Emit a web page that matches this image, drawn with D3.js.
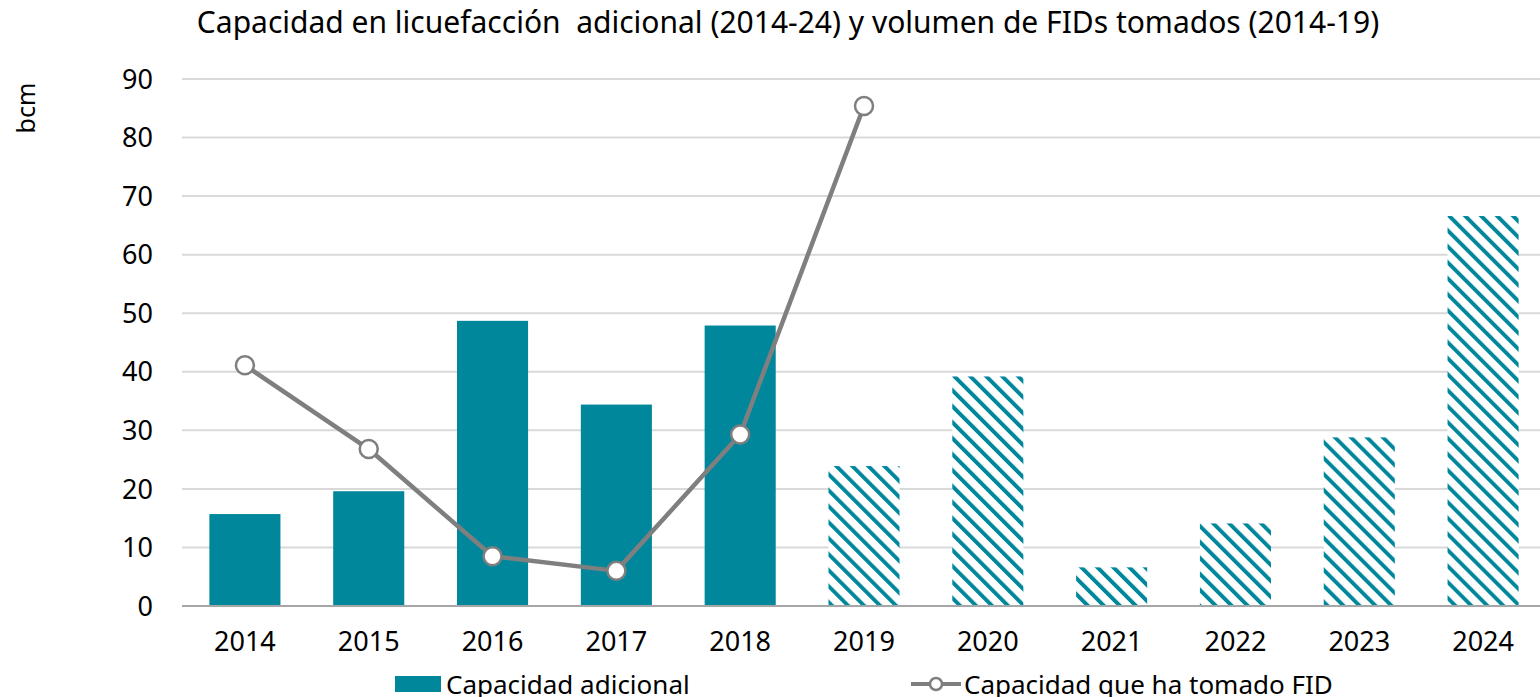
<!DOCTYPE html>
<html>
<head>
<meta charset="utf-8">
<script src="https://cdn.jsdelivr.net/npm/d3@7"></script>
<style>
  body { margin: 0; background: #fff; }
  svg { display: block; font-family: "Noto Sans", "Open Sans", sans-serif; }
</style>
</head>
<body>
<div id="chart"></div>
<script>
// chart data
var years = ['2014', '2015', '2016', '2017', '2018', '2019', '2020', '2021', '2022', '2023', '2024'];
var capacidad = [15.7, 19.6, 48.7, 34.4, 47.9, 23.9, 39.2, 6.6, 14.1, 28.8, 66.6];
var fidYears = ['2014', '2015', '2016', '2017', '2018', '2019'];
var fidValues = [41.1, 26.8, 8.5, 6.0, 29.3, 85.4];
var yTicks = [0, 10, 20, 30, 40, 50, 60, 70, 80, 90];
var lastActual = 4; // bars after this index are hatched (forecast)

var teal = '#00879b';
var grey = '#7f7f7f';

var width = 1540, height = 697;
var margin = { top: 79, right: -5, bottom: 90, left: 183 };

var svg = d3.select('#chart').append('svg')
    .attr('width', width)
    .attr('height', height);

// "\" diagonal hatch for forecast bars
var defs = svg.append('defs');
var pat = defs.append('pattern')
    .attr('id', 'hatch')
    .attr('patternUnits', 'userSpaceOnUse')
    .attr('width', 11.3)
    .attr('height', 11.3)
    .attr('patternTransform', 'rotate(-45)');
pat.append('rect').attr('width', 11.3).attr('height', 11.3).attr('fill', '#fff');
pat.append('rect').attr('x', 0).attr('width', 3.9).attr('height', 11.3).attr('fill', teal);

var x = d3.scaleBand()
    .domain(years)
    .range([margin.left, width - margin.right])
    .paddingInner(0.426)
    .paddingOuter(0.213);

var y = d3.scaleLinear()
    .domain([0, 90])
    .range([height - margin.bottom - 1, margin.top]);

// gridlines
svg.append('g').selectAll('line')
    .data(yTicks.slice(1))
    .enter().append('line')
    .attr('x1', margin.left - 1)
    .attr('x2', width)
    .attr('y1', function (d) { return y(d); })
    .attr('y2', function (d) { return y(d); })
    .attr('stroke', '#d9d9d9')
    .attr('stroke-width', 2);

// y tick labels
svg.append('g').selectAll('text')
    .data(yTicks)
    .enter().append('text')
    .attr('x', 153)
    .attr('y', function (d) { return y(d); })
    .attr('dy', '0.36em')
    .attr('text-anchor', 'end')
    .attr('font-size', 27)
    .attr('fill', '#000')
    .text(function (d) { return d; });

// bars
svg.append('g').selectAll('rect')
    .data(capacidad)
    .enter().append('rect')
    .attr('x', function (d, i) { return x(years[i]); })
    .attr('y', function (d) { return y(d); })
    .attr('width', x.bandwidth())
    .attr('height', function (d) { return y(0) - y(d); })
    .attr('fill', function (d, i) { return i > lastActual ? 'url(#hatch)' : teal; });

// axis baseline
svg.append('line')
    .attr('x1', margin.left - 1)
    .attr('x2', width)
    .attr('y1', y(0))
    .attr('y2', y(0))
    .attr('stroke', '#a6a6a6')
    .attr('stroke-width', 2);

// x labels
svg.append('g').selectAll('text')
    .data(years)
    .enter().append('text')
    .attr('x', function (d) { return x(d) + x.bandwidth() / 2; })
    .attr('y', 651)
    .attr('text-anchor', 'middle')
    .attr('font-size', 27)
    .attr('fill', '#000')
    .text(function (d) { return d; });

// FID line
var line = d3.line()
    .x(function (d, i) { return x(fidYears[i]) + x.bandwidth() / 2; })
    .y(function (d) { return y(d); });

svg.append('path')
    .datum(fidValues)
    .attr('d', line)
    .attr('fill', 'none')
    .attr('stroke', grey)
    .attr('stroke-width', 4.5)
    .attr('stroke-linejoin', 'round');

svg.append('g').selectAll('circle')
    .data(fidValues)
    .enter().append('circle')
    .attr('cx', function (d, i) { return x(fidYears[i]) + x.bandwidth() / 2; })
    .attr('cy', function (d) { return y(d); })
    .attr('r', 9)
    .attr('fill', '#fff')
    .attr('stroke', grey)
    .attr('stroke-width', 2.5);

// title
svg.append('text')
    .attr('x', 788)
    .attr('y', 33)
    .attr('text-anchor', 'middle')
    .attr('font-size', 30)
    .attr('fill', '#000')
    .style('white-space', 'pre')
    .text('Capacidad en licuefacción  adicional (2014-24) y volumen de FIDs tomados (2014-19)');

// y axis title
svg.append('text')
    .attr('transform', 'translate(35,108) rotate(-90)')
    .attr('text-anchor', 'middle')
    .attr('font-size', 25)
    .attr('fill', '#000')
    .text('bcm');

// legend
var legend = svg.append('g');
legend.append('rect')
    .attr('x', 395).attr('y', 676)
    .attr('width', 46).attr('height', 16)
    .attr('fill', teal);
legend.append('text')
    .attr('x', 446).attr('y', 694)
    .attr('font-size', 26)
    .attr('fill', '#000')
    .text('Capacidad adicional');

legend.append('line')
    .attr('x1', 911).attr('x2', 961)
    .attr('y1', 684).attr('y2', 684)
    .attr('stroke', grey).attr('stroke-width', 4);
legend.append('circle')
    .attr('cx', 936).attr('cy', 684).attr('r', 6)
    .attr('fill', '#fff').attr('stroke', grey).attr('stroke-width', 2.5);
legend.append('text')
    .attr('x', 964).attr('y', 694)
    .attr('font-size', 26)
    .attr('fill', '#000')
    .text('Capacidad que ha tomado FID');
</script>
</body>
</html>
